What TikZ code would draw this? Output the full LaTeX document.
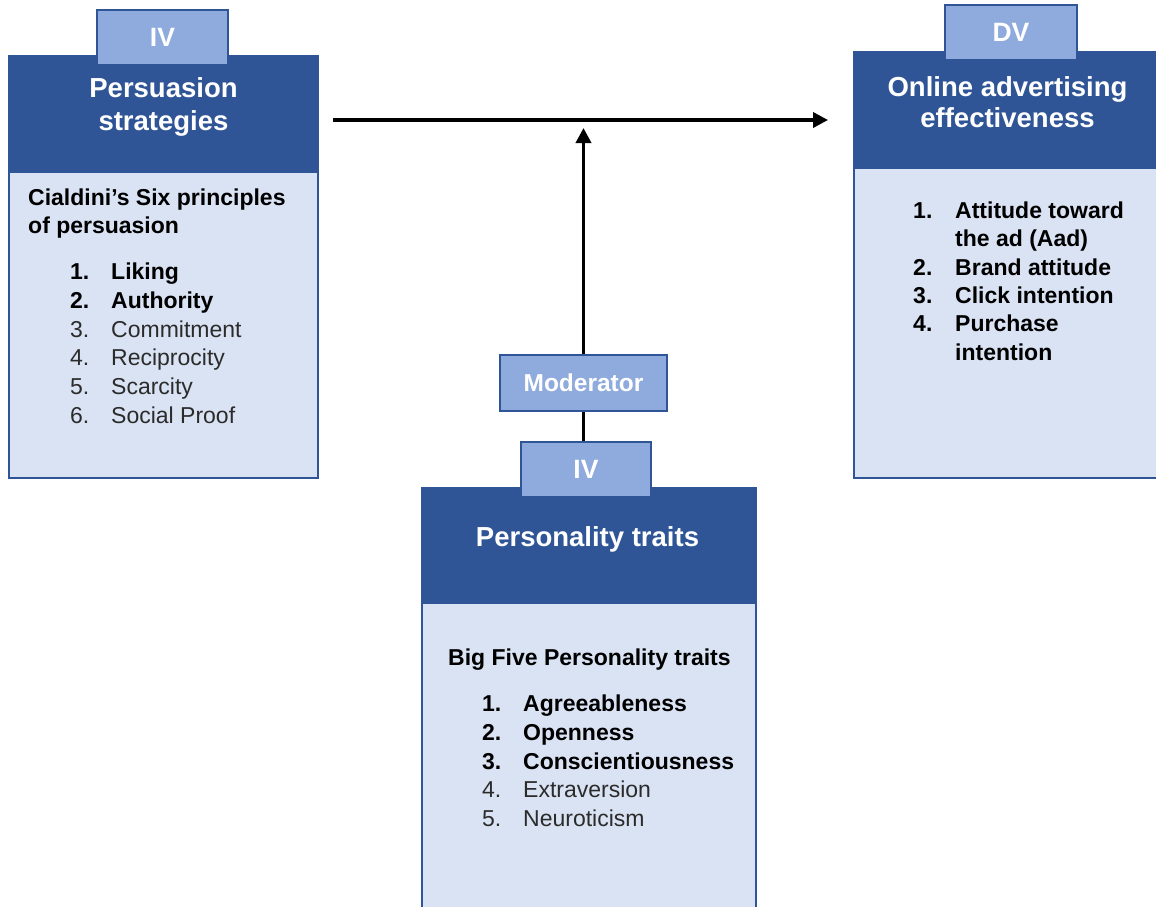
\documentclass[tikz,border=0pt]{standalone}
\usepackage{fontspec}
\setmainfont{Liberation Sans}
\usetikzlibrary{arrows.meta}
\definecolor{dkblue}{HTML}{2F5597}
\definecolor{tabblue}{HTML}{8FAADC}
\definecolor{bodyblue}{HTML}{DAE3F3}
\definecolor{txtgray}{HTML}{2B2B2B}
\begin{document}
\begin{tikzpicture}[x=1pt,y=-1pt,
  header/.style={draw=dkblue, fill=dkblue, line width=1.5pt, inner sep=0pt, rectangle},
  bodybox/.style={draw=dkblue, fill=bodyblue, line width=2pt, inner sep=0pt, rectangle},
  tab/.style={draw=dkblue, fill=tabblue, line width=1.5pt, inner sep=0pt, rectangle, text=white, font=\fontsize{26.5}{30}\selectfont\bfseries},
  ttl/.style={text=white, font=\fontsize{27.5}{33}\selectfont\bfseries, anchor=base, inner sep=0pt},
  bt/.style={text=black, font=\fontsize{23}{28}\selectfont\bfseries, anchor=base west, inner sep=0pt},
  nt/.style={text=txtgray, font=\fontsize{23}{28}\selectfont, anchor=base west, inner sep=0pt},
  arr/.style={line width=3.5pt, -{Triangle[length=15pt,width=15pt]}},
  lnk/.style={line width=3.5pt}]
\useasboundingbox (0,0) rectangle (1156,907);
\fill[white] (0,0) rectangle (1156,907);

% ---------- left box ----------
\node[bodybox, minimum width=309pt, minimum height=306pt] (lbody) at (163.5,325) {};
\node[header, minimum width=309pt, minimum height=116pt] (lhead) at (163.5,114) {};
\node[tab, minimum width=131pt, minimum height=55pt] (ltab) at (162.5,37.5) {IV};
\node[ttl] (lt1) at (163.5,97) {Persuasion};
\node[ttl] (lt2) at (163.5,130) {strategies};
\node[bt] (lh1) at (28,205) {Cialdini’s Six principles};
\node[bt] (lh2) at (28,233) {of persuasion};
\node[bt] (ln1) at (70,279) {1.};  \node[bt] (li1) at (111,279) {Liking};
\node[bt] (ln2) at (70,308) {2.};  \node[bt] (li2) at (111,308) {Authority};
\node[nt] (ln3) at (70,337) {3.};  \node[nt] (li3) at (111,337) {Commitment};
\node[nt] (ln4) at (70,365) {4.};  \node[nt] (li4) at (111,365) {Reciprocity};
\node[nt] (ln5) at (70,394) {5.};  \node[nt] (li5) at (111,394) {Scarcity};
\node[nt] (ln6) at (70,423) {6.};  \node[nt] (li6) at (111,423) {Social Proof};

% ---------- right box ----------
\node[bodybox, minimum width=316pt, minimum height=310pt] (rbody) at (1012,323) {};
\node[header, minimum width=316pt, minimum height=116pt] (rhead) at (1012,110) {};
\node[tab, minimum width=132pt, minimum height=55pt] (rtab) at (1011,32.5) {DV};
\node[ttl] (rt1) at (1007.5,96) {Online advertising};
\node[ttl] (rt2) at (1007.5,127) {effectiveness};
\node[bt] (rn1) at (913,218) {1.};  \node[bt] (ri1) at (955,218) {Attitude toward};
\node[bt] (ri1b) at (955,246) {the ad (Aad)};
\node[bt] (rn2) at (913,275) {2.};  \node[bt] (ri2) at (955,275) {Brand attitude};
\node[bt] (rn3) at (913,303) {3.};  \node[bt] (ri3) at (955,303) {Click intention};
\node[bt] (rn4) at (913,331) {4.};  \node[bt] (ri4) at (955,331) {Purchase};
\node[bt] (ri4b) at (955,360) {intention};

% ---------- centre box ----------
\node[bodybox, minimum width=334pt, minimum height=327pt] (pbody) at (589,766.5) {};
\node[header, minimum width=334pt, minimum height=115pt] (phead) at (589,545.5) {};
\node[tab, minimum width=130pt, minimum height=55pt] (ptab) at (586,469.5) {IV};
\node[ttl] (pt1) at (587.5,546) {Personality traits};
\node[bt] (ph1) at (448,665) {Big Five Personality traits};
\node[bt] (pn1) at (482,711) {1.};  \node[bt] (pi1) at (523,711) {Agreeableness};
\node[bt] (pn2) at (482,740) {2.};  \node[bt] (pi2) at (523,740) {Openness};
\node[bt] (pn3) at (482,769) {3.};  \node[bt] (pi3) at (523,769) {Conscientiousness};
\node[nt] (pn4) at (482,797) {4.};  \node[nt] (pi4) at (523,797) {Extraversion};
\node[nt] (pn5) at (482,826) {5.};  \node[nt] (pi5) at (523,826) {Neuroticism};

% ---------- moderator ----------
\node[tab, minimum width=167pt, minimum height=56pt, font=\fontsize{24.5}{28}\selectfont\bfseries] (mod) at (583.5,383) {Moderator};

% ---------- connectors ----------
\coordinate (hs) at (333,120);
\coordinate (he) at (828,120);
\draw[arr] (hs) -- (he);
\draw[arr, shorten >=8pt] (mod.north) -- (mod.north |- hs);
\draw[lnk] (mod.south) -- (mod.south |- ptab.north);
\end{tikzpicture}
\end{document}
